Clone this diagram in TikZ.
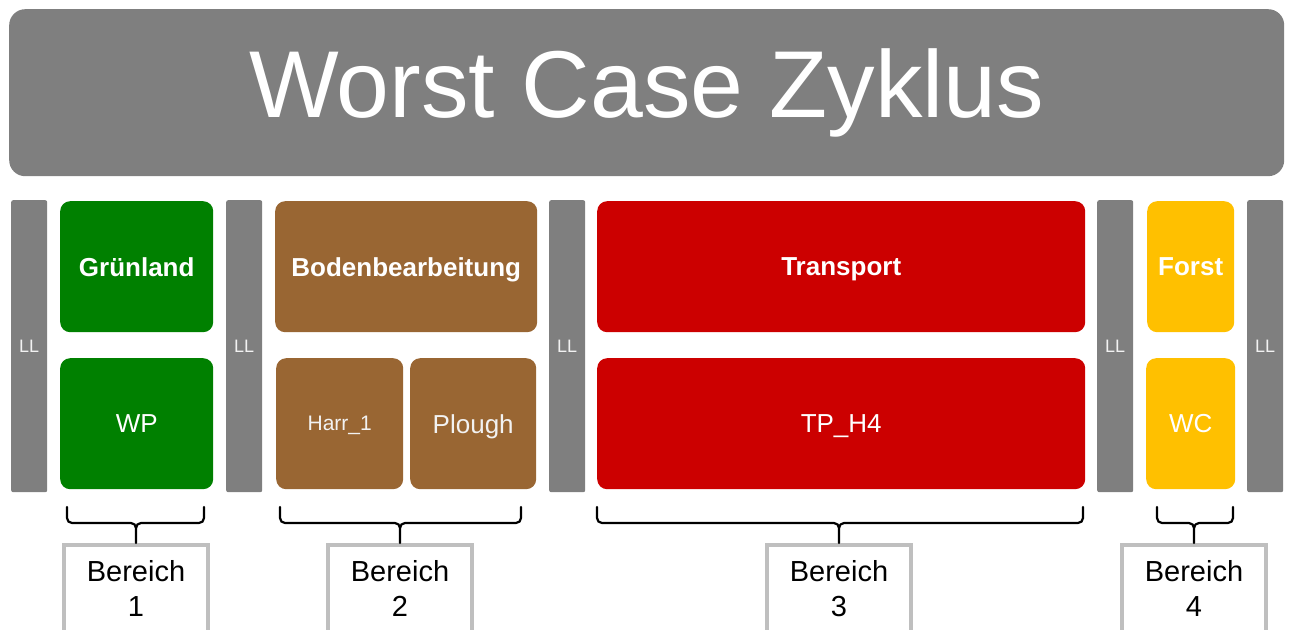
\documentclass[tikz,border=0pt]{standalone}
\usepackage{fontspec}
\setmainfont{Liberation Sans}
\definecolor{panelgray}{HTML}{7F7F7F}
\definecolor{grass}{HTML}{008000}
\definecolor{soil}{HTML}{996633}
\definecolor{haul}{HTML}{CC0000}
\definecolor{wood}{HTML}{FFC000}
\definecolor{frame}{HTML}{BFBFBF}
\newcommand\px[1]{\fontsize{#1}{#1}\selectfont}
\newcommand\pxl[2]{\fontsize{#1}{#2}\selectfont}
% curly group marker from x=#1 to x=#2, tip at x=#3, pointing at node #4
\newcommand\groupbrace[4]{%
  \draw[bracestyle] (#1,507) -- (#1,518) to[out=-90,in=180] (#1+5,523)
        -- (#3-5,523) to[out=0,in=90] (#3,528) -- (#4.north);
  \draw[bracestyle] (#2,507) -- (#2,518) to[out=-90,in=0] (#2-5,523)
        -- (#3+5,523) to[out=180,in=90] (#3,528);
}
\begin{document}
\begin{tikzpicture}[x=1pt,y=-1pt,
  tile/.style={rounded corners=10pt, inner sep=0pt, text=white, anchor=north west, text depth=0pt},
  head/.style={tile, font=\bfseries\px{26}},
  sub/.style={tile, font=\px{26}},
  llbar/.style={fill=panelgray, rounded corners=2pt, inner sep=0pt, anchor=north west,
    minimum width=36pt, minimum height=292pt, text=white!95!black, font=\px{18}},
  area/.style={draw=frame, line width=4pt, fill=white, inner sep=0pt, anchor=north,
    minimum width=144pt, minimum height=99pt, align=center, font=\pxl{29}{35},
    text depth=12pt},
  bracestyle/.style={line width=2.2pt, line cap=round, line join=round}]
\useasboundingbox (0,0) rectangle (1290,629);
\clip (0,0) rectangle (1290,629);

% title banner
\node[fill=panelgray, rounded corners=16pt, anchor=north west, inner sep=0pt,
      minimum width=1275pt, minimum height=167pt, text=white, font=\px{95}]
      (title) at (9,9) {Worst Case Zyklus};

% lane separators
\node[llbar] (ll1) at (11,200)   {LL};
\node[llbar] (ll2) at (226,200)  {LL};
\node[llbar] (ll3) at (549,200)  {LL};
\node[llbar] (ll4) at (1097,200) {LL};
\node[llbar] (ll5) at (1247,200) {LL};

% Grünland
\node[head, fill=grass, minimum width=153pt, minimum height=131pt] (gruen) at (60,201) {Grünland};
\node[sub,  fill=grass, minimum width=153pt, minimum height=131pt] (wp)    at (60,358) {WP};

% Bodenbearbeitung
\node[head, fill=soil, minimum width=262pt, minimum height=131pt] (boden)  at (275,201) {Bodenbearbeitung};
\node[tile, fill=soil, minimum width=127pt, minimum height=131pt, font=\px{21},
      text=white!95!black] (harr) at (276,358) {Harr\_1};
\node[sub,  fill=soil, minimum width=126pt, minimum height=131pt,
      text=white!95!black] (plough) at (410,358) {Plough};

% Transport
\node[head, fill=haul, minimum width=488pt, minimum height=131pt] (trans) at (597,201) {Transport};
\node[sub,  fill=haul, minimum width=488pt, minimum height=131pt] (tph4)  at (597,358) {TP\_H4};

% Forst
\node[head, fill=wood, minimum width=87pt, minimum height=131pt] (forst) at (1147,201) {Forst};
\node[sub,  fill=wood, minimum width=89pt, minimum height=131pt] (wc)    at (1146,358) {WC};

% area boxes
\node[area] (ber1) at (136,543)  {Bereich\\1};
\node[area] (ber2) at (400,543)  {Bereich\\2};
\node[area] (ber3) at (839,543)  {Bereich\\3};
\node[area] (ber4) at (1194,543) {Bereich\\4};

% group markers
\groupbrace{67}{204}{136}{ber1}
\groupbrace{280}{521}{400}{ber2}
\groupbrace{597}{1083}{839}{ber3}
\groupbrace{1157}{1233}{1194}{ber4}
\end{tikzpicture}
\end{document}
